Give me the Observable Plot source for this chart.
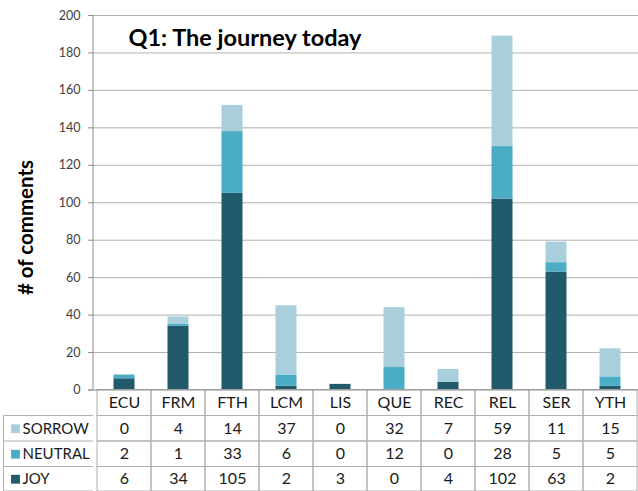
<!DOCTYPE html>
<html><head><meta charset="utf-8">
<script src="https://cdn.jsdelivr.net/npm/d3@7"></script>
<script src="https://cdn.jsdelivr.net/npm/@observablehq/plot@0.6"></script>
<style>body{margin:0;background:#fff;} svg{display:block}</style>
</head><body><div id="chart"></div>
<script>
const categories = ["ECU","FRM","FTH","LCM","LIS","QUE","REC","REL","SER","YTH"];
const sorrow  = [0, 4, 14, 37, 0, 32, 7, 59, 11, 15];
const neutral = [2, 1, 33, 6, 0, 12, 0, 28, 5, 5];
const joy     = [6, 34, 105, 2, 3, 0, 4, 102, 63, 2];
const tableSeries = ["SORROW","NEUTRAL","JOY"];
const stackOrder = ["JOY","NEUTRAL","SORROW"];
const yTicks = [0,20,40,60,80,100,120,140,160,180,200];
const title = "Q1: The journey today";
const yLabel = "# of comments";
const seriesColors = ["#215a6a","#4bacc6","#a9cfdd"]; // JOY, NEUTRAL, SORROW

const seriesValues = {SORROW: sorrow, NEUTRAL: neutral, JOY: joy};
const barData = stackOrder.flatMap(s => categories.map((c, i) => ({category: c, series: s, value: seriesValues[s][i]})));

// layout (pixels)
const W = 638, H = 491, leftPx = 93, topPx = 15, zeroPx = 389.5, yMax = 200;
const pxToY = px => (zeroPx - px) * yMax / (zeroPx - topPx);
const rowEdges = [389.5, 415.5, 441, 466.5, 491].map(pxToY);
const rowMid = r => (rowEdges[r] + rowEdges[r + 1]) / 2;

const cellData = [0,1,2,3].flatMap(r => categories.map(c => ({category: c, y1: rowEdges[r], y2: rowEdges[r + 1]})));
const valueData = tableSeries.flatMap((s, r) => categories.map((c, i) => ({category: c, row: r + 1, value: seriesValues[s][i]})));

const lineColor = "#b0b0b0";
const axisColor = "#8c8c8c";

const customLines = (index, scales, values, dims) => {
  const g = d3.create("svg:g").attr("fill", "none");
  g.append("line").attr("x1", leftPx).attr("x2", leftPx).attr("y1", scales.y(yMax)).attr("y2", scales.y(0)).attr("stroke", axisColor);
  const x0 = 3.5;
  g.append("line").attr("x1", x0).attr("x2", x0).attr("y1", scales.y(rowEdges[1])).attr("y2", scales.y(rowEdges[4])).attr("stroke", lineColor);
  for (let r = 1; r <= 4; r++) {
    g.append("line").attr("x1", x0).attr("x2", leftPx).attr("y1", scales.y(rowEdges[r])).attr("y2", scales.y(rowEdges[r])).attr("stroke", lineColor);
  }
  return g.node();
};

const chart = Plot.plot({
  width: W, height: H,
  marginLeft: leftPx, marginRight: 0, marginTop: topPx, marginBottom: H - zeroPx,
  style: {fontFamily: "Lato, 'Open Sans', sans-serif", fontSize: "12px", color: "#404040", background: "#fff"},
  x: {domain: categories, range: [leftPx, 641], padding: 0, axis: null},
  y: {domain: [0, yMax], range: [zeroPx, topPx], axis: null},
  color: {domain: stackOrder, range: seriesColors},
  marks: [
    Plot.ruleY(yTicks.filter(v => v > 0), {stroke: lineColor, strokeOpacity: 1}),
    Plot.axisY({ticks: yTicks, tickSize: 5, tickPadding: 8, stroke: axisColor, fill: "#404040", fontSize: 12.5, label: null}),
    Plot.barY(barData, {x: "category", y: "value", fill: "series", insetLeft: 16.5, insetRight: 16.5}),
    Plot.barY(cellData, {x: "category", y1: "y1", y2: "y2", fill: "none", stroke: lineColor}),
    customLines,
    Plot.ruleY([0], {stroke: axisColor, insetLeft: -5}),
    Plot.text(categories, {x: d => d, y: () => rowMid(0), fontSize: 16, fill: "#1a1a1a"}),
    Plot.text(valueData, {x: "category", y: d => rowMid(d.row), text: d => String(d.value), fontSize: 16, fill: "#1a1a1a"}),
    Plot.dot(tableSeries, {y: (d, i) => rowMid(i + 1), frameAnchor: "left", dx: 15 - leftPx, symbol: "square", r: 5, fill: d => d, stroke: "none"}),
    Plot.text(tableSeries, {y: (d, i) => rowMid(i + 1), frameAnchor: "left", dx: 22 - leftPx, textAnchor: "start", fontSize: 15, fill: "#1a1a1a"}),
    Plot.text([title], {y: () => pxToY(38), frameAnchor: "left", dx: 128 - leftPx, textAnchor: "start", fontSize: 23.5, fontWeight: "bold", fill: "#000"}),
    Plot.text([yLabel], {y: () => pxToY(227), frameAnchor: "left", dx: 26 - leftPx, textAnchor: "middle", rotate: -90, fontSize: 20.5, fontWeight: "bold", fill: "#000"})
  ]
});
document.getElementById("chart").appendChild(chart);
</script>
</body></html>
